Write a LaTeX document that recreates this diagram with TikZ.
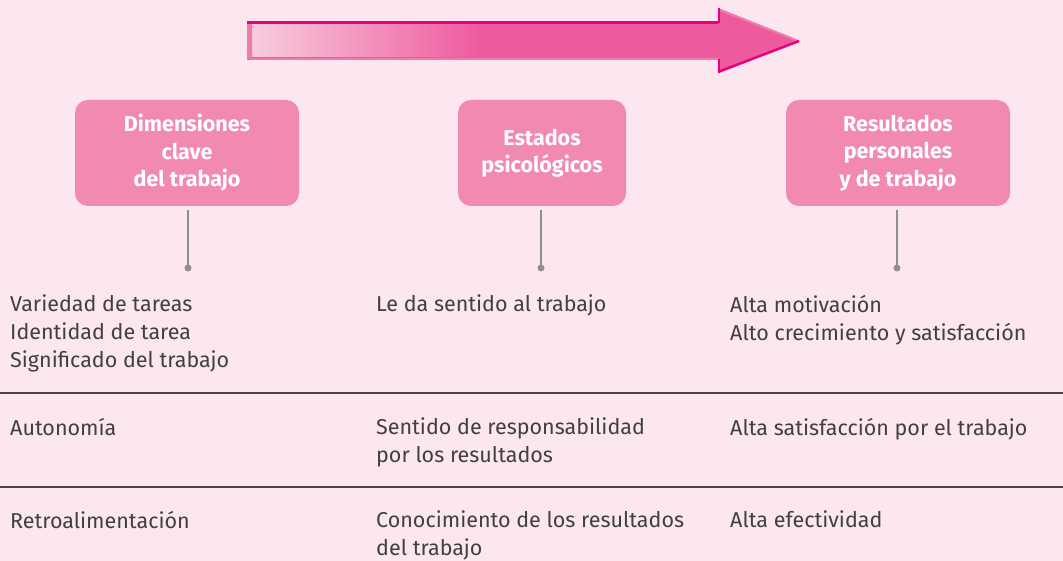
\documentclass[tikz,border=0pt]{standalone}
\usepackage{fontspec}
\setmainfont{Fira Sans}
\definecolor{bg}{HTML}{FCE6EF}
\definecolor{boxc}{HTML}{F289B3}
\definecolor{txt}{HTML}{404040}
\definecolor{arr}{HTML}{EE5A9E}
\definecolor{arrlight}{HTML}{F8CCDD}
\definecolor{mag}{HTML}{E8007E}
\definecolor{edge}{HTML}{F07CAE}
\definecolor{conn}{HTML}{8F8F8F}
\definecolor{rule}{HTML}{4A4045}
\begin{document}
\begin{tikzpicture}[x=1pt,y=-1pt,
  hbox/.style={fill=boxc,rounded corners=13pt,minimum height=106pt,align=center,text=white,font=\fontsize{21.5}{27.5}\selectfont\bfseries,inner sep=0pt},
  body/.style={anchor=north west,align=left,text=txt,font=\fontsize{21.5}{28}\selectfont,inner sep=0pt},
  conline/.style={draw=conn,line width=2pt},
  dotc/.style={circle,fill=conn,inner sep=0pt,minimum size=7pt},
  rl/.style={draw=rule,line width=2pt}]
\useasboundingbox (0,0) rectangle (1063,561);
\fill[bg] (0,0) rectangle (1063,561);
% arrow
\fill[arr] (247,22) -- (718,22) -- (718,8) -- (800,41) -- (718,73) -- (718,60) -- (247,60) -- cycle;
\shade[left color=arrlight,right color=arr] (252,25) rectangle (480,57);
\fill[edge] (247,22) -- (252,25) -- (252,57) -- (247,60) -- cycle;
\draw[mag,line width=2.5pt] (247,22.5) -- (718,22.5);
\draw[edge,line width=2pt] (250,59) -- (718,59);
\draw[edge,line width=2pt] (720,10) -- (796,40);
\draw[mag,line width=2.5pt] (718,72) -- (799,41);
\draw[mag,line width=2pt] (719,8) -- (719,23);
\draw[mag,line width=2pt] (719,59) -- (719,73);
% boxes
\node[hbox,minimum width=224pt] (b1) at (187,153) {Dimensiones\\clave\\del trabajo};
\node[hbox,minimum width=168pt] (b2) at (542,153) {Estados\\psicológicos};
\node[hbox,minimum width=224pt] (b3) at (898,153) {Resultados\\personales\\y de trabajo};
\node[dotc] (d1) at (188,268) {};
\node[dotc] (d2) at (541,268) {};
\node[dotc] (d3) at (897,268) {};
\coordinate (t1) at (188,210);
\coordinate (t2) at (541,210);
\coordinate (t3) at (897,210);
\draw[conline] (t1) -- (d1.center);
\draw[conline] (t2) -- (d2.center);
\draw[conline] (t3) -- (d3.center);
% rules
\coordinate (r1a) at (0,393); \coordinate (r1b) at (1063,393);
\coordinate (r2a) at (0,487); \coordinate (r2b) at (1063,487);
\draw[rl] (r1a) -- (r1b);
\draw[rl] (r2a) -- (r2b);
% texts
\node[body] (a1) at (10,295) {Variedad de tareas\\Identidad de tarea\\Significado del trabajo};
\node[body] (a2) at (376,295) {Le da sentido al trabajo};
\node[body] (a3) at (730,295) {Alta motivación\\Alto crecimiento y satisfacción};
\node[body] (c1) at (10,418) {Autonomía};
\node[body] (c2) at (376,418) {Sentido de responsabilidad\\por los resultados};
\node[body] (c3) at (730,418) {Alta satisfacción por el trabajo};
\node[body] (e1) at (10,511) {Retroalimentación};
\node[body] (e2) at (376,511) {Conocimiento de los resultados\\del trabajo};
\node[body] (e3) at (730,511) {Alta efectividad};
\end{tikzpicture}
\end{document}
